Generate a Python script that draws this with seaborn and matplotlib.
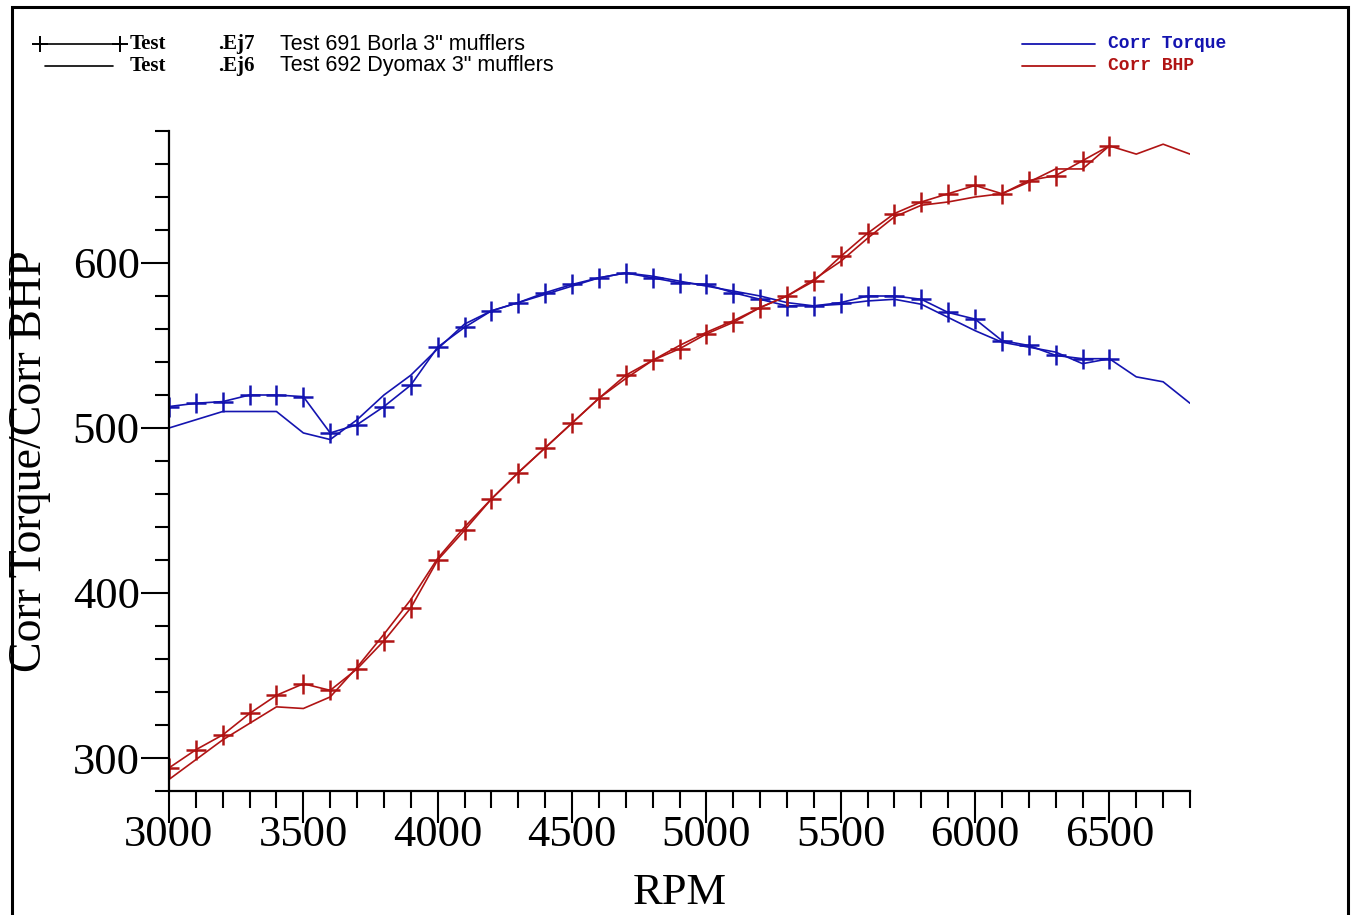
import matplotlib
matplotlib.use("Agg")
import matplotlib.pyplot as plt
from matplotlib.lines import Line2D
from matplotlib.patches import Rectangle
from matplotlib.ticker import MultipleLocator
import pandas as pd
import seaborn as sns

# Dyno pulls: engine speed (RPM) against corrected torque and corrected BHP
rpm_691 = [3000, 3100, 3200, 3300, 3400, 3500, 3600, 3700, 3800, 3900,
           4000, 4100, 4200, 4300, 4400, 4500, 4600, 4700, 4800, 4900,
           5000, 5100, 5200, 5300, 5400, 5500, 5600, 5700, 5800, 5900,
           6000, 6100, 6200, 6300, 6400, 6500]
torque_691 = [513, 515, 516, 520, 520, 519, 497, 502, 513, 526,
              549, 561, 571, 576, 582, 587, 591, 594, 591, 588,
              587, 582, 578, 574, 574, 576, 580, 580, 578, 570,
              566, 553, 550, 544, 542, 542]
bhp_691 = [294, 305, 314, 327, 338, 345, 341, 354, 371, 391,
           420, 438, 457, 473, 488, 503, 518, 532, 541, 548,
           557, 564, 573, 580, 589, 604, 618, 630, 637, 642,
           647, 642, 650, 653, 662, 671]

rpm_692 = [3000, 3100, 3200, 3300, 3400, 3500, 3600, 3700, 3800, 3900,
           4000, 4100, 4200, 4300, 4400, 4500, 4600, 4700, 4800, 4900,
           5000, 5100, 5200, 5300, 5400, 5500, 5600, 5700, 5800, 5900,
           6000, 6100, 6200, 6300, 6400, 6500, 6600, 6700, 6800]
torque_692 = [500, 505, 510, 510, 510, 497, 493, 505, 520, 532,
              548, 563, 571, 576, 581, 586, 591, 594, 592, 589,
              586, 583, 580, 576, 574, 575, 577, 578, 575, 567,
              559, 552, 549, 546, 539, 542, 531, 528, 515]
bhp_692 = [287, 299, 311, 321, 331, 330, 337, 355, 375, 396,
           421, 440, 457, 473, 488, 503, 518, 530, 541, 550,
           558, 565, 573, 580, 590, 601, 615, 628, 635, 637,
           640, 642, 649, 657, 657, 671, 666, 672, 666]

x_ticks = [3000, 3500, 4000, 4500, 5000, 5500, 6000, 6500]
y_ticks = [300, 400, 500, 600]

BLUE = "#1414b0"
RED = "#b01414"

df691 = pd.DataFrame({"RPM": rpm_691, "Corr Torque": torque_691, "Corr BHP": bhp_691})
df692 = pd.DataFrame({"RPM": rpm_692, "Corr Torque": torque_692, "Corr BHP": bhp_692})

sns.set_style("ticks")
plt.rcParams["font.family"] = ["Liberation Serif", "DejaVu Serif"]
plt.rcParams["text.color"] = "black"
plt.rcParams["axes.labelcolor"] = "black"

fig = plt.figure(figsize=(13.54, 9.15), dpi=100)
ax = fig.add_axes([169 / 1354, 1 - 791 / 915, 1021 / 1354, 660 / 915])

# test 692: plain lines
for col, c in (("Corr Torque", BLUE), ("Corr BHP", RED)):
    sns.lineplot(data=df692, x="RPM", y=col, ax=ax, color=c, lw=1.2,
                 estimator=None, legend=False)
# test 691: lines with + markers
for col, c in (("Corr Torque", BLUE), ("Corr BHP", RED)):
    sns.lineplot(data=df691, x="RPM", y=col, ax=ax, color=c, lw=1.2,
                 marker="+", markersize=14, markeredgewidth=1.8,
                 markeredgecolor=c, estimator=None, legend=False)

ax.set_xlim(3000, 6800)
ax.set_ylim(280, 680)
ax.set_xticks(x_ticks)
ax.set_yticks(y_ticks)
ax.xaxis.set_minor_locator(MultipleLocator(100))
ax.yaxis.set_minor_locator(MultipleLocator(20))
ax.tick_params(axis="x", which="major", length=23, width=1.5, pad=-6, labelsize=32,
               colors="black", labelcolor="black")
ax.tick_params(axis="x", which="minor", length=12, width=1.5, colors="black")
ax.tick_params(axis="y", which="major", length=20, width=1.5, pad=1, labelsize=32,
               colors="black", labelcolor="black")
ax.tick_params(axis="y", which="minor", length=10, width=1.5, colors="black")
sns.despine(ax=ax)
for s in ("left", "bottom"):
    ax.spines[s].set_linewidth(1.6)
    ax.spines[s].set_color("black")

ax.set_xlabel("RPM", fontsize=32, va="center", color="black")
ax.xaxis.set_label_coords(0.5, (791 - 893) / 660)
ax.set_ylabel("Corr Torque/Corr BHP", fontsize=33, va="center", color="black")
ax.yaxis.set_label_coords((30 - 169) / 1021, 0.5)

# legend block, top left
def fx(px):
    return px / 1354

def fy(py):
    return 1 - py / 915

fig.add_artist(Line2D([fx(40), fx(120)], [fy(44), fy(44)], color="black", lw=1.2,
                      marker="+", markersize=11, markeredgewidth=1.4,
                      markevery=[0, 1], transform=fig.transFigure))
fig.add_artist(Line2D([fx(45), fx(113)], [fy(66), fy(66)], color="black", lw=1.2,
                      transform=fig.transFigure))
for py, tag, desc in ((44, ".Ej7", 'Test 691 Borla 3" mufflers'),
                      (66, ".Ej6", 'Test 692 Dyomax 3" mufflers')):
    fig.text(fx(130), fy(py), "Test", fontsize=15, fontweight="bold",
             ha="left", va="center", family="Liberation Serif")
    fig.text(fx(218), fy(py), tag, fontsize=15, fontweight="bold",
             ha="left", va="center", family="Liberation Serif")
    fig.text(fx(280), fy(py), desc, fontsize=15.5,
             ha="left", va="center", family="Liberation Sans")

# legend block, top right
for py, label, c in ((44, "Corr Torque", BLUE), (66, "Corr BHP", RED)):
    fig.add_artist(Line2D([fx(1022), fx(1095)], [fy(py), fy(py)], color=c, lw=1.3,
                          transform=fig.transFigure))
    fig.text(fx(1108), fy(py), label, fontsize=13, fontweight="bold", color=c,
             ha="left", va="center", family="Liberation Mono")

# page frame
fig.add_artist(Rectangle((fx(12), -0.05), fx(1348) - fx(12), fy(7) + 0.05,
                         transform=fig.transFigure, fill=False, ec="black", lw=2.2))

fig.savefig("out.png", dpi=100, facecolor="white")
